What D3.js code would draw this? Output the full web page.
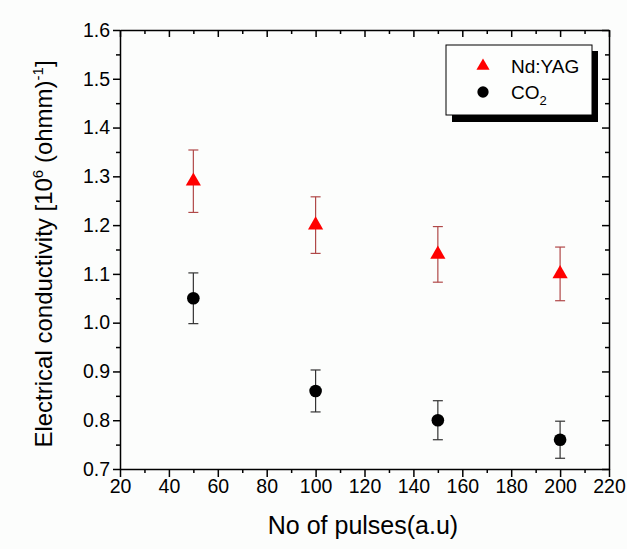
<!DOCTYPE html>
<html>
<head>
<meta charset="utf-8">
<style>
body { margin: 0; background: #fcfdfc; }
text { font-family: "Liberation Sans", Arial, sans-serif; fill: #000; }
.axis path, .axis line { stroke: #000; stroke-width: 1.5px; }
</style>
</head>
<body>
<script src="https://cdn.jsdelivr.net/npm/d3@7/dist/d3.min.js"></script>
<script>

// data
var pulses = [50, 100, 150, 200];
var ndyag = [1.29, 1.20, 1.14, 1.10];
var ndyagErr = [0.064, 0.058, 0.057, 0.055];
var co2 = [1.05, 0.86, 0.80, 0.76];
var co2Err = [0.052, 0.043, 0.04, 0.038];
var xTicks = [20, 40, 60, 80, 100, 120, 140, 160, 180, 200, 220];
var yTicks = [0.7, 0.8, 0.9, 1.0, 1.1, 1.2, 1.3, 1.4, 1.5, 1.6];

var width = 627, height = 549;
var mLeft = 120, mRight = 609, mTop = 30, mBottom = 469;

var svg = d3.select("body").append("svg")
    .attr("width", width)
    .attr("height", height);

svg.append("rect").attr("width", width).attr("height", height).attr("fill", "#fcfdfc");

var x = d3.scaleLinear().domain([20, 220]).range([mLeft, mRight]);
var y = d3.scaleLinear().domain([0.7, 1.6]).range([mBottom, mTop]);

var xMinor = d3.range(30, 220, 20);
var yMinor = d3.range(0.75, 1.6, 0.1);

function noDomain(g) { g.select(".domain").remove(); }

// bottom axis: ticks outward
svg.append("g").attr("class", "axis")
    .attr("transform", "translate(0," + mBottom + ")")
    .call(d3.axisBottom(x).tickValues(xMinor).tickSize(4).tickFormat(""))
    .call(noDomain);
svg.append("g").attr("class", "axis")
    .attr("transform", "translate(0," + mBottom + ")")
    .call(d3.axisBottom(x).tickValues(xTicks).tickSize(8).tickSizeOuter(0).tickPadding(2))
    .selectAll("text").style("font-size", "19.5px");

// left axis
svg.append("g").attr("class", "axis")
    .attr("transform", "translate(" + mLeft + ",0)")
    .call(d3.axisLeft(y).tickValues(yMinor).tickSize(4).tickFormat(""))
    .call(noDomain);
svg.append("g").attr("class", "axis")
    .attr("transform", "translate(" + mLeft + ",0)")
    .call(d3.axisLeft(y).tickValues(yTicks).tickSize(7).tickSizeOuter(0).tickPadding(3).tickFormat(d3.format(".1f")))
    .selectAll("text").style("font-size", "19.5px");

// top axis, ticks inward
svg.append("g").attr("class", "axis")
    .attr("transform", "translate(0," + mTop + ")")
    .call(d3.axisTop(x).tickValues(xMinor).tickSize(-4).tickFormat(""))
    .call(noDomain);
svg.append("g").attr("class", "axis")
    .attr("transform", "translate(0," + mTop + ")")
    .call(d3.axisTop(x).tickValues(xTicks).tickSize(-7).tickSizeOuter(0).tickFormat(""));

// right axis, ticks inward
svg.append("g").attr("class", "axis")
    .attr("transform", "translate(" + mRight + ",0)")
    .call(d3.axisRight(y).tickValues(yMinor).tickSize(-4).tickFormat(""))
    .call(noDomain);
svg.append("g").attr("class", "axis")
    .attr("transform", "translate(" + mRight + ",0)")
    .call(d3.axisRight(y).tickValues(yTicks).tickSize(-7).tickSizeOuter(0).tickFormat(""));

// error bars + markers
function series(vals, errs, color, barColor, shape, size) {
  var g = svg.append("g");
  var rows = pulses.map(function(p, i) { return {x: p, y: vals[i], e: errs[i]}; });
  var eb = g.selectAll(".eb").data(rows).enter().append("g")
      .attr("stroke", barColor).attr("stroke-width", 1.2);
  eb.append("line")
      .attr("x1", function(d) { return x(d.x); })
      .attr("x2", function(d) { return x(d.x); })
      .attr("y1", function(d) { return y(d.y - d.e); })
      .attr("y2", function(d) { return y(d.y + d.e); });
  eb.append("line")
      .attr("x1", function(d) { return x(d.x) - 5; })
      .attr("x2", function(d) { return x(d.x) + 5; })
      .attr("y1", function(d) { return y(d.y + d.e); })
      .attr("y2", function(d) { return y(d.y + d.e); });
  eb.append("line")
      .attr("x1", function(d) { return x(d.x) - 5; })
      .attr("x2", function(d) { return x(d.x) + 5; })
      .attr("y1", function(d) { return y(d.y - d.e); })
      .attr("y2", function(d) { return y(d.y - d.e); });
  g.selectAll(".mk").data(rows).enter().append("path")
      .attr("d", d3.symbol().type(shape).size(size))
      .attr("transform", function(d) { return "translate(" + x(d.x) + "," + y(d.y) + ")"; })
      .attr("fill", color);
}

series(ndyag, ndyagErr, "#ff0000", "#b04848", d3.symbolTriangle, 100);
series(co2, co2Err, "#000", "#333", d3.symbolCircle, 125);

// legend
var lg = svg.append("g");
lg.append("rect").attr("x", 452).attr("y", 51).attr("width", 146).attr("height", 71).attr("fill", "#000");
lg.append("rect").attr("x", 446).attr("y", 45).attr("width", 146).attr("height", 70)
    .attr("fill", "#fdfefd").attr("stroke", "#000").attr("stroke-width", 1);
lg.append("path").attr("d", d3.symbol().type(d3.symbolTriangle).size(75))
    .attr("transform", "translate(483,66)").attr("fill", "#ff0000");
lg.append("text").attr("x", 511).attr("y", 73).style("font-size", "19px").text("Nd:YAG");
lg.append("path").attr("d", d3.symbol().type(d3.symbolCircle).size(100))
    .attr("transform", "translate(483,92)").attr("fill", "#000");
var co2t = lg.append("text").attr("x", 511).attr("y", 99).style("font-size", "19px");
co2t.append("tspan").text("CO");
co2t.append("tspan").attr("dy", 6).style("font-size", "13px").text("2");

// axis titles
svg.append("text")
    .attr("x", 363).attr("y", 534)
    .attr("text-anchor", "middle")
    .style("font-size", "25px")
    .text("No of pulses(a.u)");

var yt = svg.append("text")
    .attr("transform", "translate(52,254) rotate(-90)")
    .attr("text-anchor", "middle")
    .style("font-size", "24px");
yt.append("tspan").text("Electrical conductivity [10");
yt.append("tspan").attr("dy", -9).style("font-size", "15px").text("6");
yt.append("tspan").attr("dy", 9).text(" (ohmm)");
yt.append("tspan").attr("dy", -9).style("font-size", "15px").text("-1");
yt.append("tspan").attr("dy", 9).text("]");

</script>
</body>
</html>
